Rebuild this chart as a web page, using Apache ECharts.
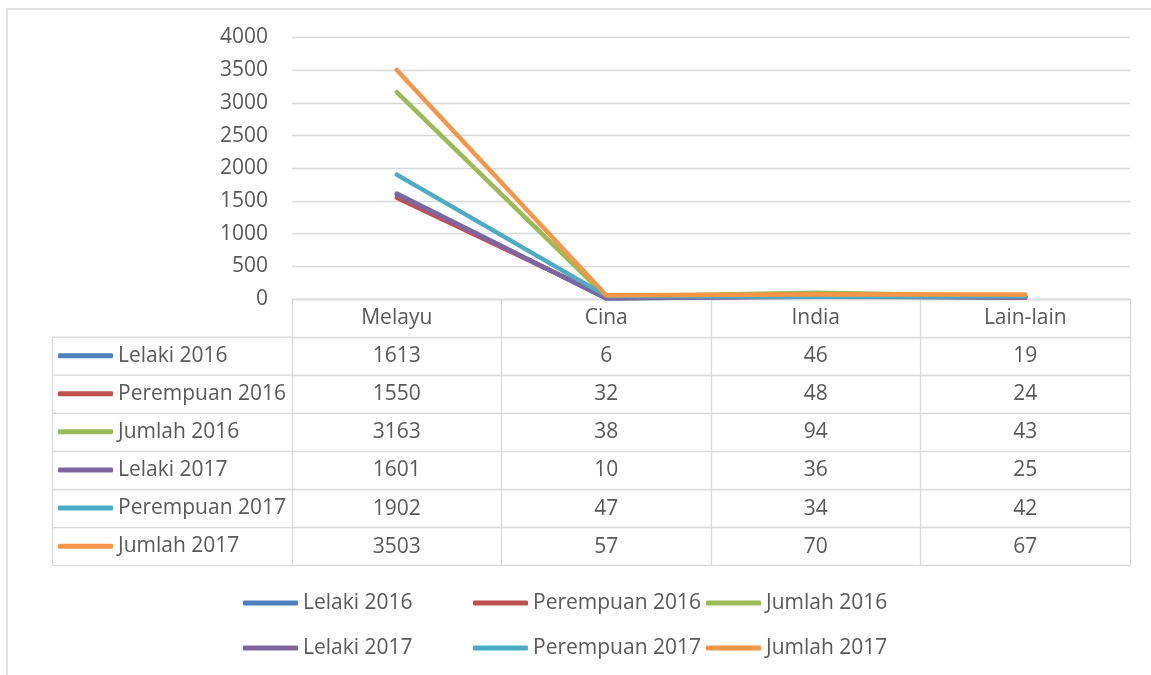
<!DOCTYPE html>
<html>
<head>
<meta charset="utf-8">
<script src="https://cdn.jsdelivr.net/npm/echarts@6/dist/echarts.min.js"></script>
<style>
html,body{margin:0;padding:0;background:#fff;}
#chart{width:1151px;height:675px;}
</style>
</head>
<body>
<div id="chart"></div>
<script>
// ---- data ----
const categories = ['Melayu', 'Cina', 'India', 'Lain-lain'];
const seriesNames = ['Lelaki 2016', 'Perempuan 2016', 'Jumlah 2016', 'Lelaki 2017', 'Perempuan 2017', 'Jumlah 2017'];
const lelaki2016 = [1613, 6, 46, 19];
const perempuan2016 = [1550, 32, 48, 24];
const jumlah2016 = [3163, 38, 94, 43];
const lelaki2017 = [1601, 10, 36, 25];
const perempuan2017 = [1902, 47, 34, 42];
const jumlah2017 = [3503, 57, 70, 67];
const seriesValues = [lelaki2016, perempuan2016, jumlah2016, lelaki2017, perempuan2017, jumlah2017];
const yMin = 0, yMax = 4000, yInterval = 500;

// ---- styles / layout ----
const colors = ['#4F81BD', '#C0504D', '#9BBB59', '#8064A2', '#4BACC6', '#F79646'];
const textColor = '#595959';
const lineColor = '#D9D9D9';
const fontFamily = '"Open Sans", "Noto Sans", sans-serif';
const fontSize = 21;
const gridLeft = 292, gridRight = 1130, gridTop = 37.5, gridBottomY = 299;
const rowH = 38.1;
const tableLeft = 52.5;

const chart = echarts.init(document.getElementById('chart'));

const xAxes = [];
// header axis (category names)
xAxes.push({
  type: 'category', gridIndex: 0, position: 'bottom', offset: 0,
  data: categories, boundaryGap: true,
  axisLine: {show: true, lineStyle: {color: lineColor, width: 1.3}},
  axisTick: {show: true, interval: 0, length: rowH, lineStyle: {color: lineColor, width: 1.3}},
  axisLabel: {show: true, interval: 0, margin: rowH / 2, verticalAlign: 'middle',
    color: textColor, fontSize: fontSize, fontFamily: fontFamily},
  splitLine: {show: false}
});
// one axis per table row
seriesValues.forEach((vals, i) => {
  xAxes.push({
    type: 'category', gridIndex: 0, position: 'bottom', offset: rowH * (i + 1),
    data: categories, boundaryGap: true,
    axisLine: {show: true, lineStyle: {color: lineColor, width: 1.3}},
    axisTick: {show: true, interval: 0, length: rowH, lineStyle: {color: lineColor, width: 1.3}},
    axisLabel: {show: true, interval: 0, margin: rowH / 2, verticalAlign: 'middle',
      color: textColor, fontSize: fontSize, fontFamily: fontFamily,
      formatter: (v, idx) => String(vals[idx])},
    splitLine: {show: false}
  });
});
// bottom border of table
xAxes.push({
  type: 'category', gridIndex: 0, position: 'bottom', offset: rowH * 7,
  data: categories, boundaryGap: true,
  axisLine: {show: true, lineStyle: {color: lineColor, width: 1.3}},
  axisTick: {show: false}, axisLabel: {show: false}, splitLine: {show: false}
});

// left column of the table: borders
const graphics = [];
for (let k = 0; k <= 6; k++) {
  const y = gridBottomY + rowH * (k + 1);
  graphics.push({type: 'line', shape: {x1: tableLeft, y1: y, x2: gridLeft, y2: y},
    style: {stroke: lineColor, lineWidth: 1.3}, silent: true});
}
graphics.push({type: 'line', shape: {x1: tableLeft, y1: gridBottomY + rowH, x2: tableLeft, y2: gridBottomY + rowH * 7},
  style: {stroke: lineColor, lineWidth: 1.3}, silent: true});
// outer chart border
graphics.push({type: 'rect', shape: {x: 7, y: 9, width: 1200, height: 700},
  style: {fill: null, stroke: lineColor, lineWidth: 1.5}, silent: true});

const legendText = {color: textColor, fontSize: fontSize, fontFamily: fontFamily, lineHeight: 24};
const legendCommon = {orient: 'vertical', padding: 0, itemWidth: 55, itemHeight: 5, icon: 'roundRect',
  textStyle: legendText, selectedMode: false};
const legends = [
  // legend keys inside the data table
  Object.assign({}, legendCommon, {left: 58, top: gridBottomY + rowH + (rowH - 24) / 2 - 0.5,
    itemGap: rowH - 24, data: seriesNames}),
  // bottom legend in three columns
  Object.assign({}, legendCommon, {left: 243, top: 591, itemGap: 21, data: [seriesNames[0], seriesNames[3]]}),
  Object.assign({}, legendCommon, {left: 473, top: 591, itemGap: 21, data: [seriesNames[1], seriesNames[4]]}),
  Object.assign({}, legendCommon, {left: 706, top: 591, itemGap: 21, data: [seriesNames[2], seriesNames[5]]})
];

chart.setOption({
  animation: false,
  color: colors,
  textStyle: {fontFamily: fontFamily},
  grid: {left: gridLeft, right: 1151 - gridRight, top: gridTop, bottom: 675 - gridBottomY},
  xAxis: xAxes,
  yAxis: {
    type: 'value', min: yMin, max: yMax, interval: yInterval,
    axisLine: {show: false}, axisTick: {show: false},
    axisLabel: {color: textColor, fontSize: fontSize, fontFamily: fontFamily, margin: 24,
      formatter: v => String(v)},
    splitLine: {show: true, lineStyle: {color: lineColor, width: 1.3}}
  },
  legend: legends,
  graphic: graphics,
  series: seriesNames.map((name, i) => ({
    name: name, type: 'line', xAxisIndex: 0, yAxisIndex: 0,
    data: seriesValues[i], symbol: 'none', smooth: false,
    lineStyle: {width: 4.5, color: colors[i], cap: 'round', join: 'round'},
    itemStyle: {color: colors[i]},
    z: 2 + i
  }))
});
</script>
</body>
</html>
